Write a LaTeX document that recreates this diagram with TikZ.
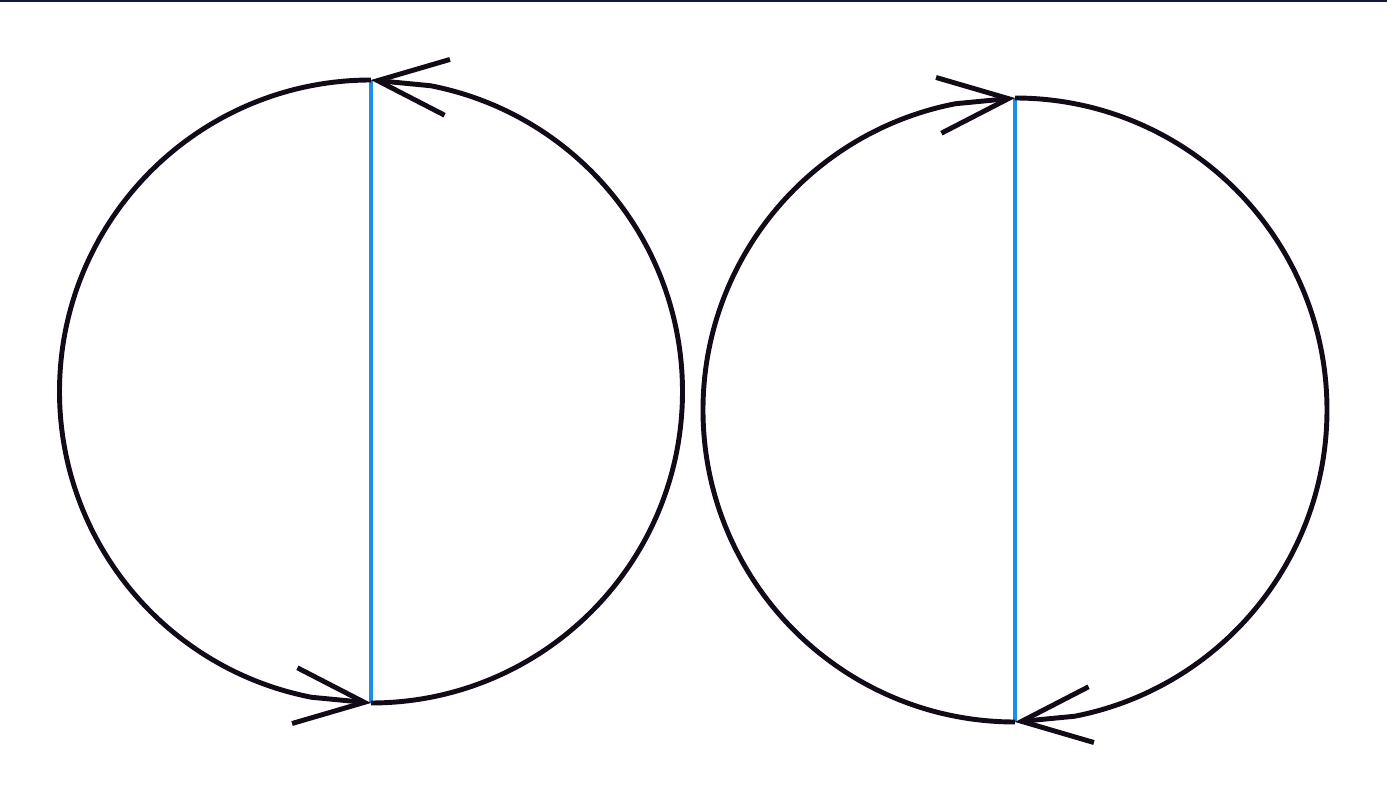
\documentclass[tikz,border=0pt]{standalone}
\usetikzlibrary{arrows.meta}
\definecolor{ink}{RGB}{18,10,22}
\definecolor{chord}{RGB}{28,142,232}
\definecolor{frame}{RGB}{18,24,58}
\tikzset{
  ring/.style={line width=1.4pt, draw=ink, -{Straight Barb[length=0.7cm, width=0.56cm, line width=1.4pt]}},
  diam/.style={line width=1.2pt, draw=chord},
}

\begin{document}
\begin{tikzpicture}
  \useasboundingbox (0,0) rectangle (13.87,8.02);
  \fill[frame] (0,7.995) rectangle (13.87,8.02);

  % left circle, counter-clockwise
  \coordinate (ltop) at (3.71,7.22);
  \coordinate (lbot) at (3.71,0.99);
  \draw[diam] (ltop) -- (lbot);
  \draw[ring] (lbot) arc[start angle=-90, end angle=79, radius=3.115] -- (ltop);
  \draw[ring] (ltop) arc[start angle=90, end angle=259, radius=3.115] -- (lbot);

  % right circle, clockwise
  \coordinate (rtop) at (10.15,7.04);
  \coordinate (rbot) at (10.15,0.80);
  \draw[diam] (rtop) -- (rbot);
  \draw[ring] (rbot) arc[start angle=270, end angle=101, radius=3.12] -- (rtop);
  \draw[ring] (rtop) arc[start angle=90, end angle=-79, radius=3.12] -- (rbot);
\end{tikzpicture}
\end{document}
